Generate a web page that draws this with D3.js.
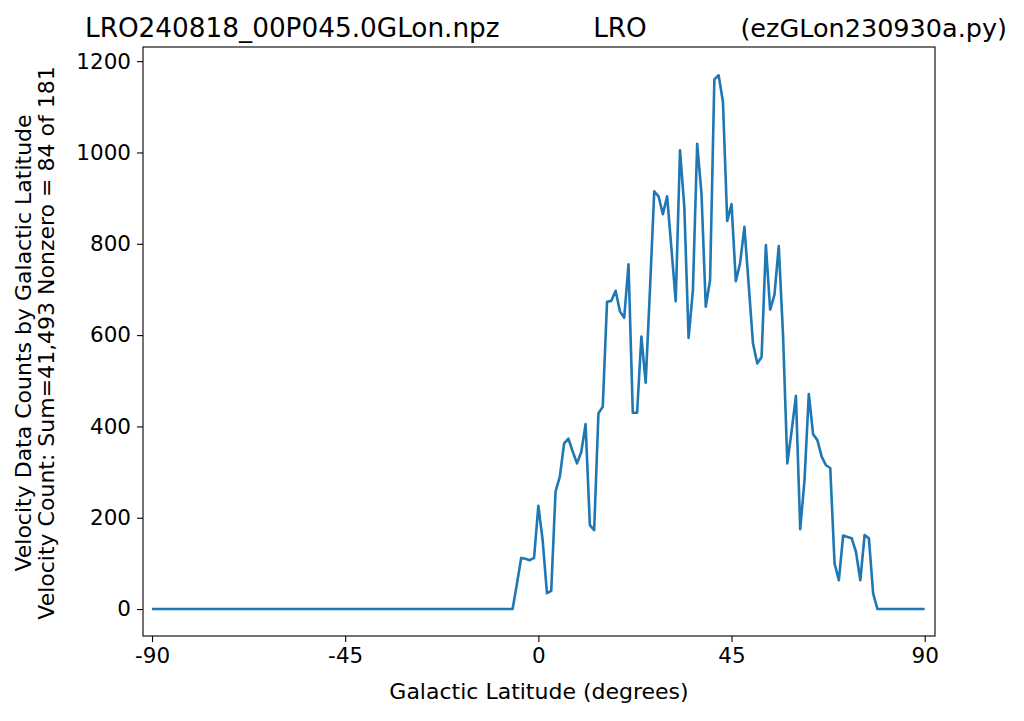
<!DOCTYPE html>
<html>
<head>
<meta charset="UTF-8">
<script src="https://d3js.org/d3.v7.min.js"></script>
<style>
  body { margin: 0; background: #fff; }
  text { font-family: "DejaVu Sans", sans-serif; fill: #000; }
</style>
</head>
<body>
<svg width="1024" height="721"></svg>
<script>
// counts for latitude -90..90, nonzero from -5 to 78
const startLat = -5;
const nonzero = [55, 112, 110, 107, 112, 226, 151, 35, 40, 257, 290, 363, 373, 345, 319, 344, 405, 184, 173, 429,
  443, 673, 675, 697, 652, 638, 755, 430, 430, 597, 496, 700, 915, 904, 865, 904, 790, 674, 1005, 881,
  594, 698, 1019, 911, 662, 720, 1160, 1169, 1111, 850, 887, 718, 758, 837, 710, 582, 538, 552, 797, 656,
  688, 795, 600, 319, 390, 467, 175, 282, 471, 383, 370, 334, 315, 309, 100, 63, 161, 158, 155, 125,
  63, 162, 155, 34];
const lats = d3.range(-90, 91);
const counts = lats.map(l => (l >= startLat && l < startLat + nonzero.length) ? nonzero[l - startLat] : 0);
const xTicks = [-90, -45, 0, 45, 90];
const yTicks = [0, 200, 400, 600, 800, 1000, 1200];

const svg = d3.select("svg");
const L = 143, R = 935, T = 47, B = 636;
const x = d3.scaleLinear().domain([-92.1, 92.4]).range([L, R]);
const y = d3.scaleLinear().domain([-59, 1231]).range([B, T]);

svg.append("path")
  .datum(lats)
  .attr("fill", "none").attr("stroke", "#1f77b4").attr("stroke-width", 2.6)
  .attr("stroke-linejoin", "round")
  .attr("d", d3.line().x(d => x(d)).y((d, i) => y(counts[i])));

svg.append("rect").attr("x", L).attr("y", T).attr("width", R - L).attr("height", B - T)
  .attr("fill", "none").attr("stroke", "#000").attr("stroke-width", 1.1);

const xa = svg.append("g").attr("transform", `translate(0,${B})`)
  .call(d3.axisBottom(x).tickValues(xTicks).tickFormat(d => String(d)).tickSize(6).tickPadding(6));
const ya = svg.append("g").attr("transform", `translate(${L},0)`)
  .call(d3.axisLeft(y).tickValues(yTicks).tickFormat(d => String(d)).tickSize(6).tickPadding(6));
[xa, ya].forEach(a => {
  a.select(".domain").remove();
  a.selectAll("line").attr("stroke-width", 1.1);
  a.selectAll("text").style("font-size", "21.5px").style("font-family", "DejaVu Sans");
});

svg.append("text").attr("x", (L + R) / 2).attr("y", 699).attr("text-anchor", "middle")
  .style("font-size", "22px").text("Galactic Latitude (degrees)");
svg.append("text").attr("transform", "translate(31,343) rotate(-90)").attr("text-anchor", "middle")
  .style("font-size", "22px").text("Velocity Data Counts by Galactic Latitude");
svg.append("text").attr("transform", "translate(54,343) rotate(-90)").attr("text-anchor", "middle")
  .style("font-size", "22px").text("Velocity Count: Sum=41,493 Nonzero = 84 of 181");

svg.append("text").attr("x", 85).attr("y", 37).style("font-size", "26.3px").text("LRO240818_00P045.0GLon.npz");
svg.append("text").attr("x", 620).attr("y", 37).attr("text-anchor", "middle").style("font-size", "26.3px").text("LRO");
svg.append("text").attr("x", 1007).attr("y", 37).attr("text-anchor", "end").style("font-size", "25.5px").text("(ezGLon230930a.py)");
</script>
</body>
</html>
